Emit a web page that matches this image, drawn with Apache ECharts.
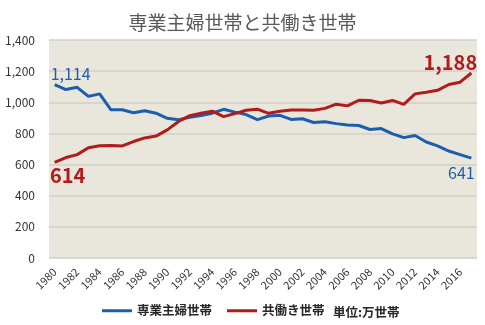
<!DOCTYPE html>
<html><head><meta charset="utf-8">
<script src="https://cdn.jsdelivr.net/npm/echarts@6/dist/echarts.min.js"></script>
<style>html,body{margin:0;padding:0;background:#fff;}#c{width:485px;height:325px;}</style>
</head><body><div id="c"></div>
<script>
const years = ['1980','1981','1982','1983','1984','1985','1986','1987','1988','1989','1990','1991','1992','1993','1994','1995','1996','1997','1998','1999','2000','2001','2002','2003','2004','2005','2006','2007','2008','2009','2010','2011','2012','2013','2014','2015','2016','2017'];
const housewife = [1114,1082,1096,1038,1054,952,952,933,946,930,897,888,903,915,930,955,937,921,889,912,916,890,894,870,875,863,854,851,825,831,797,773,787,745,720,687,664,641];
const dualIncome = [614,645,664,708,721,722,720,748,771,783,823,877,914,929,943,908,927,949,956,929,942,951,951,949,961,988,977,1013,1011,995,1012,987,1054,1065,1077,1114,1129,1188];
const seriesNames = ['専業主婦世帯','共働き世帯'];
const titleText = '専業主婦世帯と共働き世帯';
const unitText = '単位:万世帯';

const FONT = '"Noto Sans CJK JP", sans-serif';
const BLUE = '#1B5EAF', RED = '#B11B1B';
function withEndLabels(arr, color, firstStyle, lastStyle){
  return arr.map((v,i)=>{
    if(i===0) return {value:v, label:Object.assign({show:true,color:color,fontFamily:FONT,formatter:p=>p.value.toLocaleString('en-US')},firstStyle)};
    if(i===arr.length-1) return {value:v, label:Object.assign({show:true,color:color,fontFamily:FONT,formatter:p=>p.value.toLocaleString('en-US')},lastStyle)};
    return v;
  });
}
const chart = echarts.init(document.getElementById('c'));
chart.setOption({
  animation:false,
  backgroundColor:'#fff',
  title:{text:titleText,left:'center',top:8,textStyle:{fontFamily:FONT,fontSize:19,fontWeight:'normal',color:'#595959'}},
  grid:{left:49,right:8,top:40,bottom:67,show:true,backgroundColor:'#E9E6DB',borderWidth:0},
  legend:{bottom:3,left:97,itemWidth:30,itemHeight:3,itemGap:15,icon:'rect',
    textStyle:{fontFamily:FONT,fontSize:12.5,fontWeight:'bold',color:'#262626'},
    data:seriesNames},
  graphic:[{type:'text',left:333,bottom:6,style:{text:unitText,font:'bold 12.5px '+FONT,fill:'#262626'}}],
  xAxis:{type:'category',data:years,boundaryGap:true,
    axisLine:{show:false},axisTick:{show:false},
    axisLabel:{interval:1,rotate:45,fontFamily:FONT,fontSize:11,color:'#333',margin:12}},
  yAxis:{type:'value',min:0,max:1400,interval:200,
    axisLabel:{fontFamily:FONT,fontSize:12,color:'#333',margin:14,formatter:v=>v.toLocaleString('en-US')},
    splitLine:{lineStyle:{color:'#D2CFCB',width:1.5}},axisLine:{show:false},axisTick:{show:false}},
  series:[
    {name:seriesNames[0],type:'line',symbol:'circle',symbolSize:0,showSymbol:true,lineStyle:{color:BLUE,width:3},itemStyle:{color:BLUE},
      data:withEndLabels(housewife,BLUE,{position:'top',fontSize:16,offset:[16,2]},{position:'bottom',fontSize:16,offset:[-10,2]})},
    {name:seriesNames[1],type:'line',symbol:'circle',symbolSize:0,showSymbol:true,lineStyle:{color:RED,width:3},itemStyle:{color:RED},
      data:withEndLabels(dualIncome,RED,{position:'bottom',fontSize:20,fontWeight:'bold',offset:[13,-2]},{position:'top',fontSize:20,fontWeight:'bold',offset:[-21,4]})}
  ]
});
</script></body></html>
